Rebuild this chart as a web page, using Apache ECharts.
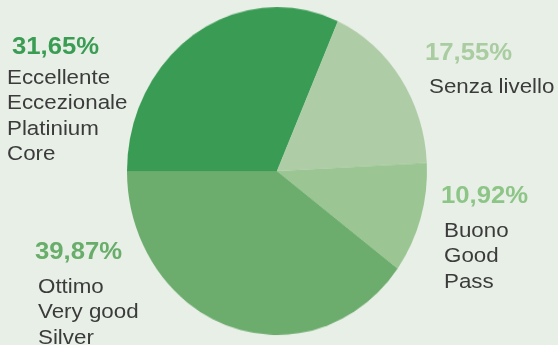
<!DOCTYPE html>
<html>
<head>
<meta charset="utf-8">
<script src="https://cdn.jsdelivr.net/npm/echarts@6/dist/echarts.min.js"></script>
<style>
  html, body { margin: 0; padding: 0; background: #e8efe7; }
  #wrap { position: relative; width: 558px; height: 345px; overflow: hidden; }
  #pie, #labels { position: absolute; left: 0; top: 0; width: 558px; height: 345px; }
  /* the pie is drawn slightly taller than wide */
  #pie { transform: scaleY(1.0933); transform-origin: 0 171px; }
  #labels { pointer-events: none; }
</style>
</head>
<body>
<div id="wrap">
  <div id="pie"></div>
  <div id="labels"></div>
</div>
<script>
// Share of ratings, in percent
const categories = ['Eccellente', 'Senza livello', 'Buono', 'Ottimo'];
const values = [31.65, 17.55, 10.92, 39.87];
// Description lines printed under each percentage
const labelLines = [
  ['Eccellente', 'Eccezionale', 'Platinium', 'Core'],
  ['Senza livello'],
  ['Buono', 'Good', 'Pass'],
  ['Ottimo', 'Very good', 'Silver']
];

// Styling
const sliceColors = ['#3a9c54', '#aecca5', '#9bc693', '#6cac6d'];
const pctColors = ['#3a9d53', '#a9cca0', '#8dc587', '#68ad6a'];
const textColor = '#3b3b3b';
// Left x and baseline y of each percentage and of its first description line
const labelAnchors = [
  { pctX: 12, pctBase: 53, lineX: 7, lineBase: 83 },
  { pctX: 425, pctBase: 59, lineX: 429, lineBase: 92 },
  { pctX: 441, pctBase: 202, lineX: 444, lineBase: 236 },
  { pctX: 35, pctBase: 258, lineX: 38, lineBase: 292 }
];
const lineStep = 25.5;

const pieChart = echarts.init(document.getElementById('pie'));
pieChart.setOption({
  animation: false,
  backgroundColor: 'transparent',
  series: [{
    type: 'pie',
    center: [277, 171],
    radius: 150,
    startAngle: 180,
    clockwise: true,
    silent: true,
    label: { show: false },
    labelLine: { show: false },
    itemStyle: { borderWidth: 0 },
    data: categories.map((name, i) => ({
      name: name,
      value: values[i],
      itemStyle: { color: sliceColors[i] }
    }))
  }]
});

const fmtPct = v => v.toFixed(2).replace('.', ',') + '%';
const pctSize = 24;
const lineSize = 20.5;
const pctFont = 'bold ' + pctSize + 'px "Liberation Sans", Arial, sans-serif';
const lineFont = lineSize + 'px "Liberation Sans", Arial, sans-serif';
// distance from the text's vertical middle down to its baseline
const midToBase = 0.25;

const elements = [];
values.forEach((v, i) => {
  const a = labelAnchors[i];
  elements.push({
    type: 'text',
    x: a.pctX, y: a.pctBase - midToBase * pctSize,
    scaleX: 1.07,
    style: {
      text: fmtPct(v), fill: pctColors[i], font: pctFont,
      align: 'left', verticalAlign: 'middle'
    }
  });
  labelLines[i].forEach((line, j) => {
    elements.push({
      type: 'text',
      x: a.lineX,
      y: a.lineBase + j * lineStep - midToBase * lineSize,
      scaleX: 1.09,
      style: {
        text: line, fill: textColor, font: lineFont,
        align: 'left', verticalAlign: 'middle'
      }
    });
  });
});

const labelChart = echarts.init(document.getElementById('labels'));
labelChart.setOption({
  animation: false,
  backgroundColor: 'transparent',
  graphic: { elements: elements }
});
</script>
</body>
</html>
